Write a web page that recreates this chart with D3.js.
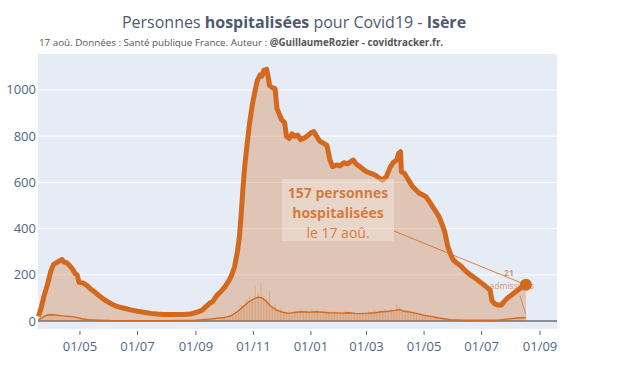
<!DOCTYPE html>
<html><head><meta charset="utf-8">
<script src="https://cdn.jsdelivr.net/npm/d3@7"></script>
<style>body{margin:0;background:#fff;} svg{display:block;font-family:"Open Sans",sans-serif;}</style>
</head><body><svg id="c" width="641" height="379"></svg>
<script>
const hospDates = ["2020-03-18","2020-03-21","2020-03-24","2020-03-28","2020-03-31","2020-04-03","2020-04-06","2020-04-09","2020-04-12","2020-04-14","2020-04-17","2020-04-20","2020-04-23","2020-04-26","2020-04-28","2020-04-30","2020-05-04","2020-05-08","2020-05-12","2020-05-16","2020-05-21","2020-05-27","2020-06-03","2020-06-10","2020-06-17","2020-06-24","2020-07-01","2020-07-08","2020-07-15","2020-07-22","2020-07-29","2020-08-05","2020-08-12","2020-08-19","2020-08-26","2020-09-02","2020-09-07","2020-09-11","2020-09-16","2020-09-19","2020-09-23","2020-09-28","2020-10-02","2020-10-06","2020-10-09","2020-10-12","2020-10-15","2020-10-17","2020-10-19","2020-10-21","2020-10-23","2020-10-26","2020-10-28","2020-10-31","2020-11-02","2020-11-05","2020-11-08","2020-11-10","2020-11-12","2020-11-15","2020-11-17","2020-11-18","2020-11-21","2020-11-24","2020-11-26","2020-11-28","2020-12-01","2020-12-04","2020-12-06","2020-12-09","2020-12-12","2020-12-15","2020-12-18","2020-12-21","2020-12-24","2020-12-28","2021-01-01","2021-01-04","2021-01-07","2021-01-10","2021-01-14","2021-01-18","2021-01-21","2021-01-24","2021-01-28","2021-02-01","2021-02-05","2021-02-09","2021-02-12","2021-02-15","2021-02-18","2021-02-22","2021-02-26","2021-03-01","2021-03-05","2021-03-10","2021-03-14","2021-03-18","2021-03-22","2021-03-26","2021-03-29","2021-04-02","2021-04-04","2021-04-06","2021-04-07","2021-04-10","2021-04-13","2021-04-16","2021-04-19","2021-04-23","2021-04-26","2021-04-30","2021-05-03","2021-05-07","2021-05-10","2021-05-14","2021-05-17","2021-05-20","2021-05-23","2021-05-26","2021-05-29","2021-06-01","2021-06-05","2021-06-08","2021-06-12","2021-06-15","2021-06-19","2021-06-22","2021-06-26","2021-06-29","2021-07-03","2021-07-06","2021-07-10","2021-07-12","2021-07-15","2021-07-18","2021-07-22","2021-07-25","2021-07-28","2021-08-01","2021-08-04","2021-08-08","2021-08-11","2021-08-14","2021-08-17"];
const hospValues = [20,60,110,165,215,245,252,260,266,255,252,240,225,205,200,168,165,155,140,128,110,92,75,62,55,48,42,38,33,30,28,28,28,28,30,38,45,60,78,85,110,130,150,175,200,235,300,360,460,580,680,790,860,940,980,1040,1065,1060,1085,1090,1050,1020,1010,1005,920,900,870,860,800,790,810,800,805,785,790,800,815,820,800,780,770,760,700,668,675,672,685,680,690,697,680,668,655,646,640,632,620,610,625,665,685,697,725,733,645,640,620,600,581,565,553,545,538,515,495,470,451,420,385,325,290,264,250,242,225,213,200,192,180,170,158,148,134,88,75,69,69,85,98,110,120,132,142,150,157];

const admDates = ["2020-03-18","2020-03-22","2020-03-26","2020-03-30","2020-04-05","2020-04-12","2020-04-19","2020-04-26","2020-05-03","2020-05-10","2020-05-20","2020-06-01","2020-07-01","2020-08-01","2020-09-01","2020-09-15","2020-10-01","2020-10-08","2020-10-15","2020-10-20","2020-10-26","2020-11-01","2020-11-06","2020-11-10","2020-11-14","2020-11-19","2020-11-25","2020-12-02","2020-12-09","2020-12-16","2020-12-23","2020-12-30","2021-01-06","2021-01-13","2021-01-20","2021-01-27","2021-02-03","2021-02-10","2021-02-17","2021-02-24","2021-03-03","2021-03-10","2021-03-17","2021-03-24","2021-03-31","2021-04-05","2021-04-10","2021-04-17","2021-04-24","2021-05-01","2021-05-08","2021-05-15","2021-05-22","2021-05-29","2021-06-10","2021-06-25","2021-07-10","2021-07-20","2021-07-30","2021-08-08","2021-08-17"];
const admValues = [5,15,24,27,26,22,20,17,10,6,4,2,1,1,3,8,15,22,40,58,80,95,103,100,88,65,48,38,33,38,40,38,40,38,36,35,34,36,33,32,34,36,40,42,46,50,42,38,32,25,20,14,10,6,4,3,3,5,9,13,15];

const barStart = "2020-10-01"; // one bar every 3 days
const barValues = [18,12,28,25,45,38,70,62,95,110,85,150,120,165,110,95,130,60,75,45,55,38,30,48,25,42,35,55,30,45,38,52,35,48,30,44,36,40,28,42,34,38,30,45,32,40,28,36,30,38,33,42,35,48,30,45,40,52,38,55,45,70,60,45,40,48,35,38,28,33,22,25,18,20,14,12];

const xTicks = ["2020-05-01","2020-07-01","2020-09-01","2020-11-01","2021-01-01","2021-03-01","2021-05-01","2021-07-01","2021-09-01"];
const yTicks = [0,200,400,600,800,1000];

const parse = d3.utcParse("%Y-%m-%d");
const C = "rgb(210,105,30)";
const svg = d3.select("#c");
const L=38,R=557,T=54,B=329;
const x = d3.scaleUtc().domain([new Date(Date.UTC(2020,2,17,12)), new Date(Date.UTC(2021,8,19))]).range([L,R]);
const y = d3.scaleLinear().domain([-34.6,1155.8]).range([B,T]);

const hosp = hospDates.map((d,i)=>({d:parse(d),v:hospValues[i]}));
const adm = admDates.map((d,i)=>({d:parse(d),v:admValues[i]}));
const bars = barValues.map((v,i)=>({d:d3.utcDay.offset(parse(barStart),i*3),v}));

svg.append("rect").attr("x",L).attr("y",T).attr("width",R-L).attr("height",B-T).attr("fill","#E5ECF6");
svg.append("g").selectAll("line").data(yTicks.filter(t=>t>0)).join("line")
  .attr("x1",L).attr("x2",R).attr("y1",d=>y(d)).attr("y2",d=>y(d)).attr("stroke","#fff").attr("stroke-width",1);
svg.append("line").attr("x1",L).attr("x2",R).attr("y1",y(0)).attr("y2",y(0)).attr("stroke","#8a8f99").attr("stroke-width",2);

svg.append("path").datum(hosp).attr("fill",C).attr("fill-opacity",0.3)
  .attr("d",d3.area().x(d=>x(d.d)).y0(y(0)).y1(d=>y(d.v)));
svg.append("g").selectAll("rect").data(bars).join("rect")
  .attr("x",d=>x(d.d)-0.6).attr("width",1.2).attr("y",d=>y(d.v)).attr("height",d=>y(0)-y(d.v))
  .attr("fill",C).attr("fill-opacity",0.25);
svg.append("path").datum(adm).attr("fill",C).attr("fill-opacity",0.15)
  .attr("d",d3.area().x(d=>x(d.d)).y0(y(0)).y1(d=>y(d.v)));
svg.append("path").datum(adm).attr("fill","none").attr("stroke",C).attr("stroke-width",1.4)
  .attr("d",d3.line().x(d=>x(d.d)).y(d=>y(d.v)));

const lastH = hosp[hosp.length-1], lastA = adm[adm.length-1];
svg.append("line").attr("x1",x(lastA.d)-6).attr("y1",y(lastA.v)-22).attr("x2",x(lastA.d)).attr("y2",y(lastA.v)-3)
  .attr("stroke",C).attr("stroke-opacity",0.6).attr("stroke-width",1);
svg.append("text").attr("x",x(lastA.d)-17).attr("y",y(lastA.v)-42).attr("text-anchor","middle")
  .attr("fill",C).attr("fill-opacity",0.7).attr("font-size",8.5).attr("font-weight","bold").text("21");
svg.append("text").attr("x",x(lastA.d)-14).attr("y",y(lastA.v)-29).attr("text-anchor","middle")
  .attr("fill",C).attr("fill-opacity",0.7).attr("font-size",8.5).text("admissions");

svg.append("path").datum(hosp).attr("fill","none").attr("stroke",C).attr("stroke-width",5).attr("stroke-linejoin","round")
  .attr("d",d3.line().x(d=>x(d.d)).y(d=>y(d.v)));
svg.append("circle").attr("cx",x(lastH.d)).attr("cy",y(lastH.v)).attr("r",6).attr("fill",C);

svg.append("line").attr("x1",394).attr("y1",231).attr("x2",x(lastH.d)-5).attr("y2",y(lastH.v)-2)
  .attr("stroke",C).attr("stroke-opacity",0.8).attr("stroke-width",1);
svg.append("rect").attr("x",282).attr("y",179).attr("width",112).attr("height",62).attr("fill","#fff").attr("fill-opacity",0.3);
const an = svg.append("text").attr("text-anchor","middle").attr("fill",C).attr("fill-opacity",0.85).attr("font-size",14);
an.append("tspan").attr("x",338).attr("y",198).attr("font-weight","bold").text("157 personnes");
an.append("tspan").attr("x",338).attr("y",218).attr("font-weight","bold").text("hospitalisées");
an.append("tspan").attr("x",338).attr("y",238).text("le 17 aoû.");

const tc="#506784";
svg.append("g").selectAll("text").data(yTicks).join("text")
  .attr("x",36).attr("y",d=>y(d)+4.5).attr("text-anchor","end").attr("font-size",13).attr("fill",tc).text(d=>d);
const xt = xTicks.map(parse);
svg.append("g").selectAll("line").data(xt).join("line")
  .attr("x1",d=>x(d)).attr("x2",d=>x(d)).attr("y1",B+2).attr("y2",B+6).attr("stroke","#506784").attr("stroke-width",1);
svg.append("g").selectAll("text").data(xt).join("text")
  .attr("x",d=>x(d)).attr("y",351).attr("text-anchor","middle").attr("font-size",13).attr("fill",tc).text(d3.utcFormat("%d/%m"));

const t = svg.append("text").attr("x",294).attr("y",28).attr("text-anchor","middle").attr("font-size",16).attr("fill","#4f5a6e");
t.append("tspan").text("Personnes ");
t.append("tspan").attr("font-weight","bold").text("hospitalisées");
t.append("tspan").text(" pour Covid19 - ");
t.append("tspan").attr("font-weight","bold").text("Isère");
const s = svg.append("text").attr("x",39).attr("y",46).attr("font-size",9.8).attr("fill","#555");
s.append("tspan").text("17 aoû. Données : Santé publique France. Auteur : ");
s.append("tspan").attr("font-weight","bold").text("@GuillaumeRozier - covidtracker.fr.");
</script></body></html>
